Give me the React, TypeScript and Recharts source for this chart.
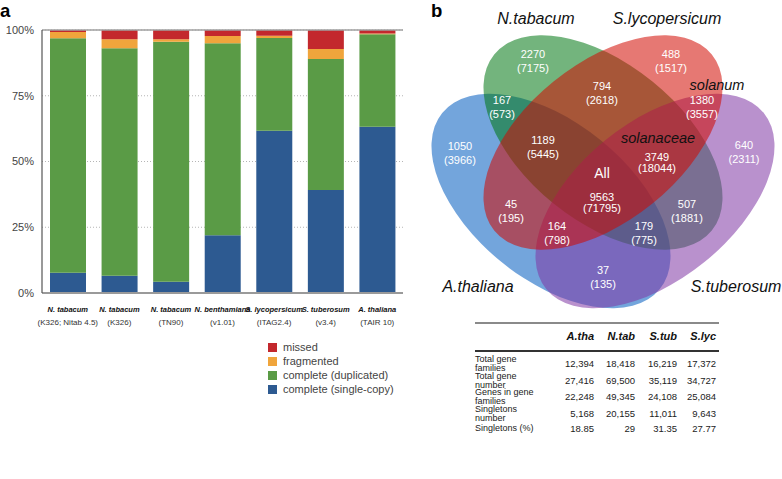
import React from 'react';
import {
  BarChart, Bar, XAxis, YAxis, CartesianGrid, ReferenceLine,
  ScatterChart, Scatter,
} from 'recharts';

const FONT = '"Liberation Sans", Arial, Helvetica, sans-serif';

// ---------- Panel a data ----------
const species = ['N. tabacum', 'N. tabacum', 'N. tabacum', 'N. benthamiana', 'S. lycopersicum', 'S. tuberosum', 'A. thaliana'];
const versions = ['(K326; Nitab 4.5)', '(K326)', '(TN90)', '(v1.01)', '(ITAG2.4)', '(v3.4)', '(TAIR 10)'];
const singleCopy = [7.7, 6.6, 4.3, 22.0, 61.7, 39.2, 63.2];
const duplicated = [89.2, 86.5, 91.2, 73.0, 35.3, 49.8, 35.2];
const fragmented = [2.3, 3.4, 1.0, 2.7, 0.8, 3.8, 0.3];
const missed = [0.8, 3.5, 3.5, 2.3, 2.2, 7.2, 1.3];
const yTicks = [0, 25, 50, 75, 100];
const legendLabels = ['missed', 'fragmented', 'complete (duplicated)', 'complete (single-copy)'];

// ---------- Panel b data ----------
const vennSets = ['A.thaliana', 'N.tabacum', 'S.tuberosum', 'S.lycopersicum'];
const vennRegions = ['A', 'N', 'L', 'T', 'AN', 'NL', 'LT', 'AT', 'ANL', 'NLT', 'ANLT', 'AL', 'NT', 'ALT', 'ANT'];
const clusterCounts = [1050, 2270, 488, 640, 167, 794, 1380, 37, 1189, 3749, 9563, 45, 507, 164, 179];
const geneCounts = [3966, 7175, 1517, 2311, 573, 2618, 3557, 135, 5445, 18044, 71795, 195, 1881, 798, 775];
const groupNames = ['solanum', 'solanaceae', 'All'];

const tableColumns = ['A.tha', 'N.tab', 'S.tub', 'S.lyc'];
const tableRowLabels = [['Total gene', 'families'], ['Total gene', 'number'], ['Genes in gene', 'families'], ['Singletons', 'number'], ['Singletons (%)']];
const totalGeneFamilies = ['12,394', '18,418', '16,219', '17,372'];
const totalGeneNumber = ['27,416', '69,500', '35,119', '34,727'];
const genesInFamilies = ['22,248', '49,345', '24,108', '25,084'];
const singletonsNumber = ['5,168', '20,155', '11,011', '9,643'];
const singletonsPct = ['18.85', '29', '31.35', '27.77'];
const tableValues = [totalGeneFamilies, totalGeneNumber, genesInFamilies, singletonsNumber, singletonsPct];

// ---------- styles / layout ----------
const BAR_COLORS = { single: '#2d5a91', dup: '#5a9b46', frag: '#f0a53c', missed: '#c3282d' };
const LEGEND_COLORS = [BAR_COLORS.missed, BAR_COLORS.frag, BAR_COLORS.dup, BAR_COLORS.single];

const barData = species.map((s, i) => ({
  name: s + ' ' + versions[i],
  single: singleCopy[i],
  dup: duplicated[i],
  frag: fragmented[i],
  missed: missed[i],
}));

// Venn geometry (diagram coordinates)
const ELLIPSE_RX = 140;
const ELLIPSE_RY = 78.6;
const ELLIPSE_GEOM: Record<string, { x: number; y: number; rot: number; fill: string }> = {
  'A.thaliana': { x: 551, y: 201, rot: 39, fill: '#005bbf' },
  'N.tabacum': { x: 603, y: 142.5, rot: 39, fill: '#007713' },
  'S.tuberosum': { x: 655, y: 201, rot: -39, fill: '#8037a4' },
  'S.lycopersicum': { x: 603, y: 142.5, rot: -39, fill: '#d10a00' },
};
const REGION_POS: Record<string, { x: number; y: number; gap?: number }> = {
  A: { x: 460, y: 146 },
  N: { x: 533, y: 54 },
  L: { x: 671, y: 54 },
  T: { x: 744, y: 145 },
  AN: { x: 502, y: 100 },
  NL: { x: 602, y: 86 },
  LT: { x: 702, y: 100 },
  AT: { x: 603, y: 270 },
  ANL: { x: 543, y: 140 },
  NLT: { x: 657, y: 157, gap: 11 },
  ANLT: { x: 602, y: 197, gap: 11 },
  AL: { x: 511, y: 204 },
  NT: { x: 687, y: 204 },
  ALT: { x: 557, y: 226 },
  ANT: { x: 644, y: 226 },
};
const SET_LABEL_POS: Record<string, { x: number; y: number }> = {
  'N.tabacum': { x: 536, y: 24 },
  'S.lycopersicum': { x: 667, y: 24 },
  'A.thaliana': { x: 478, y: 292 },
  'S.tuberosum': { x: 736, y: 292 },
};
const GROUP_LABEL_POS: Record<string, { x: number; y: number; size: number; color: string }> = {
  solanum: { x: 717, y: 90, size: 14.5, color: '#111' },
  solanaceae: { x: 658, y: 143, size: 14.5, color: '#111' },
  All: { x: 602, y: 178, size: 14, color: '#fff' },
};

const ellipseData = vennSets.map((s) => ({ name: s, ...ELLIPSE_GEOM[s] }));
const regionData = vennRegions.map((r, i) => ({
  id: r,
  clusters: clusterCounts[i],
  genes: geneCounts[i],
  x: REGION_POS[r].x,
  y: REGION_POS[r].y,
  gap: REGION_POS[r].gap ?? 13.7,
}));
const setLabelData = vennSets.map((s) => ({ name: s, ...SET_LABEL_POS[s] }));
const groupLabelData = groupNames.map((g) => ({ name: g, ...GROUP_LABEL_POS[g] }));

const CategoryTick = (props: any) => {
  const { x, y, index } = props;
  return (
    <g transform={`translate(${x},${y})`}>
      <text textAnchor="middle" y={19} fontSize={7.5} fontStyle="italic" fontWeight="bold" fill="#111" fontFamily={FONT}>
        {species[index]}
      </text>
      <text textAnchor="middle" y={32} fontSize={8} fill="#333" fontFamily={FONT}>
        {versions[index]}
      </text>
    </g>
  );
};

const renderEllipse = (p: any) => {
  const { cx, cy, payload } = p;
  return (
    <ellipse
      cx={cx}
      cy={cy}
      rx={ELLIPSE_RX}
      ry={ELLIPSE_RY}
      transform={`rotate(${payload.rot} ${cx} ${cy})`}
      fill={payload.fill}
      fillOpacity={0.55}
      stroke="none"
    />
  );
};

const renderRegionLabel = (p: any) => {
  const { cx, cy, payload } = p;
  return (
    <g>
      <text x={cx} y={cy + 4} textAnchor="middle" fontSize={11} fill="#fff" fontFamily={FONT}>
        {payload.clusters}
      </text>
      <text x={cx} y={cy + 4 + payload.gap} textAnchor="middle" fontSize={11} fill="#fff" fontFamily={FONT}>
        ({payload.genes})
      </text>
    </g>
  );
};

const renderSetLabel = (p: any) => {
  const { cx, cy, payload } = p;
  return (
    <text x={cx} y={cy} textAnchor="middle" fontSize={16} fontStyle="italic" fill="#111" fontFamily={FONT}>
      {payload.name}
    </text>
  );
};

const renderGroupLabel = (p: any) => {
  const { cx, cy, payload } = p;
  return (
    <text x={cx} y={cy} textAnchor="middle" fontSize={payload.size} fontStyle={payload.name === 'All' ? 'normal' : 'italic'} fill={payload.color} fontFamily={FONT}>
      {payload.name}
    </text>
  );
};

const TABLE_LEFT = 475;
const TABLE_RIGHT = 719;
const COL_RIGHTS = [594, 635, 677, 716];
const ROW_CENTERS = [364, 380.5, 397, 413.5, 428.5];
const LABEL_LH = 8.7;

export default function App() {
  return (
    <div style={{ position: 'absolute', left: 0, top: 0, width: 782, height: 479, background: '#fff', fontFamily: FONT, overflow: 'hidden' }}>
      {/* Panel letters */}
      <svg style={{ position: 'absolute', left: 0, top: 0 }} width={782} height={24}>
        <text x={0} y={16.5} fontSize={18.5} fontWeight="bold" fill="#000" fontFamily={FONT}>a</text>
        <text x={431} y={16.5} fontSize={18.5} fontWeight="bold" fill="#000" fontFamily={FONT}>b</text>
      </svg>

      {/* Panel a */}
      <div style={{ position: 'absolute', left: 0, top: 0 }}>
        <BarChart width={410} height={340} data={barData} margin={{ top: 30, right: 7, bottom: 7, left: 0 }} barSize={36}>
          <CartesianGrid vertical={false} stroke="#b5b5b5" strokeDasharray="1 2" />
          <XAxis
            dataKey="name"
            interval={0}
            tickLine={false}
            tickSize={0}
            tickMargin={0}
            height={40}
            axisLine={{ stroke: '#9a9a9a', strokeWidth: 2 }}
            tick={<CategoryTick />}
          />
          <YAxis
            domain={[0, 100]}
            ticks={yTicks}
            width={42}
            tickLine={false}
            tickFormatter={(v: number) => `${v}%`}
            tick={{ fontSize: 11, fill: '#444', fontFamily: FONT }}
            axisLine={{ stroke: '#555', strokeWidth: 1.2 }}
          />
          <YAxis yAxisId="right" orientation="right" domain={[0, 100]} width={0} tick={false} tickLine={false} axisLine={{ stroke: '#a0a0a0', strokeWidth: 1.2 }} />
          <ReferenceLine y={100} stroke="#a0a0a0" strokeWidth={1.5} />
          <Bar dataKey="single" stackId="s" fill={BAR_COLORS.single} isAnimationActive={false} />
          <Bar dataKey="dup" stackId="s" fill={BAR_COLORS.dup} isAnimationActive={false} />
          <Bar dataKey="frag" stackId="s" fill={BAR_COLORS.frag} isAnimationActive={false} />
          <Bar dataKey="missed" stackId="s" fill={BAR_COLORS.missed} isAnimationActive={false} />
        </BarChart>
      </div>

      {/* Legend for panel a */}
      <div style={{ position: 'absolute', left: 268, top: 340 }}>
        {legendLabels.map((l, i) => (
          <div key={l} style={{ position: 'absolute', left: 0, top: i * 14, height: 14, whiteSpace: 'nowrap', display: 'flex', alignItems: 'center' }}>
            <div style={{ width: 9, height: 9, background: LEGEND_COLORS[i], marginRight: 6 }} />
            <span style={{ fontSize: 11, color: '#444', lineHeight: '14px' }}>{l}</span>
          </div>
        ))}
      </div>

      {/* Panel b Venn */}
      <div style={{ position: 'absolute', left: 400, top: 0 }}>
        <ScatterChart width={382} height={320} margin={{ top: 0, right: 0, bottom: 0, left: 0 }}>
          <XAxis type="number" dataKey="x" domain={[400, 782]} hide allowDataOverflow />
          <YAxis type="number" dataKey="y" domain={[0, 320]} reversed hide allowDataOverflow />
          <Scatter data={ellipseData} shape={renderEllipse} isAnimationActive={false} />
          <Scatter data={regionData} shape={renderRegionLabel} isAnimationActive={false} />
          <Scatter data={setLabelData} shape={renderSetLabel} isAnimationActive={false} />
          <Scatter data={groupLabelData} shape={renderGroupLabel} isAnimationActive={false} />
        </ScatterChart>
      </div>

      {/* Table */}
      <div style={{ position: 'absolute', left: TABLE_LEFT, top: 322, width: TABLE_RIGHT - TABLE_LEFT, height: 2, background: '#8a8a8a' }} />
      <div style={{ position: 'absolute', left: TABLE_LEFT, top: 350, width: TABLE_RIGHT - TABLE_LEFT, height: 1.5, background: '#333' }} />
      {tableColumns.map((c, j) => (
        <div key={c} style={{ position: 'absolute', left: COL_RIGHTS[j] - 60, width: 60, top: 329, textAlign: 'right', fontSize: 11, fontWeight: 'bold', fontStyle: 'italic', color: '#111', lineHeight: '14px' }}>
          {c}
        </div>
      ))}
      {tableRowLabels.map((lines, i) => (
        <React.Fragment key={i}>
          <div style={{ position: 'absolute', left: TABLE_LEFT, top: ROW_CENTERS[i] - (lines.length * LABEL_LH) / 2, fontSize: 9, lineHeight: `${LABEL_LH}px`, color: '#222', whiteSpace: 'nowrap' }}>
            {lines.map((ln, k) => (<div key={k}>{ln}</div>))}
          </div>
          {tableValues[i].map((v, j) => (
            <div key={j} style={{ position: 'absolute', left: COL_RIGHTS[j] - 60, width: 60, top: ROW_CENTERS[i] - 6, textAlign: 'right', fontSize: 9.5, lineHeight: '12px', color: '#222' }}>
              {v}
            </div>
          ))}
        </React.Fragment>
      ))}
    </div>
  );
}
